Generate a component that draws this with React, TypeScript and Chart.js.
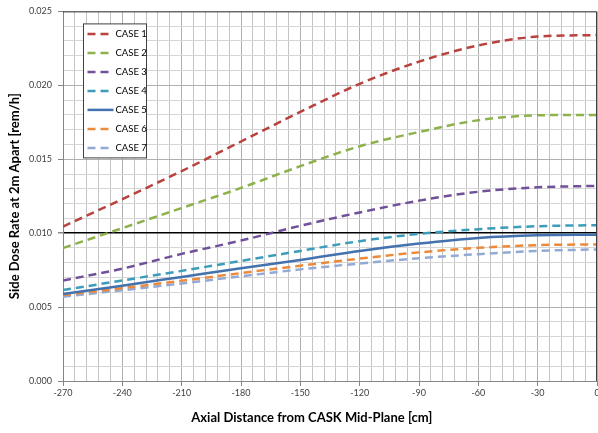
import React, { useEffect, useRef } from "react";
import { Chart, registerables } from "chart.js";

Chart.register(...registerables);

const xValues = [-270, -240, -210, -180, -150, -120, -90, -60, -30, 0];
const case1 = [0.01045, 0.0123, 0.0142, 0.0162, 0.0182, 0.0201, 0.0216, 0.0227, 0.0233, 0.0234];
const case2 = [0.009, 0.01034, 0.0117, 0.01306, 0.01453, 0.01588, 0.01684, 0.01764, 0.01797, 0.018];
const case3 = [0.0068, 0.0076, 0.0086, 0.0095, 0.0105, 0.0114, 0.0122, 0.0128, 0.0131, 0.0132];
const case4 = [0.00615, 0.0068, 0.00745, 0.00812, 0.0088, 0.00946, 0.00995, 0.01027, 0.01047, 0.01054];
const case5 = [0.00588, 0.00645, 0.00704, 0.00763, 0.00818, 0.0088, 0.0093, 0.00968, 0.00986, 0.0099];
const case6 = [0.00581, 0.00628, 0.00678, 0.0073, 0.0078, 0.00828, 0.0087, 0.00901, 0.00919, 0.00924];
const case7 = [0.0057, 0.00614, 0.0066, 0.00708, 0.00755, 0.00795, 0.0083, 0.00858, 0.0088, 0.0089];

const seriesNames = ["CASE 1", "CASE 2", "CASE 3", "CASE 4", "CASE 5", "CASE 6", "CASE 7"];
const seriesValues = [case1, case2, case3, case4, case5, case6, case7];
const seriesColors = ["#B9423F", "#8DB24C", "#71509A", "#3C9DBA", "#4472AE", "#EC8A3C", "#93AAD5"];
const seriesDashed = [true, true, true, true, false, true, true];

const xTitle = "Axial Distance from CASK Mid-Plane [cm]";
const yTitle = "Side Dose Rate at 2m Apart [rem/h]";

const FONT = "Lato, 'Open Sans', sans-serif";

const overlayPlugin = {
  id: "overlay",
  afterDraw(chart: any) {
    const { ctx, chartArea } = chart;
    const { left, top, right, bottom } = chartArea;
    ctx.save();
    ctx.strokeStyle = "#404040";
    ctx.lineWidth = 1;
    ctx.beginPath();
    ctx.moveTo(left, top + 0.5);
    ctx.lineTo(right - 0.5, top + 0.5);
    ctx.lineTo(right - 0.5, bottom);
    ctx.stroke();

    ctx.fillStyle = "#000";
    ctx.font = `bold 13px ${FONT}`;
    ctx.textAlign = "center";
    ctx.textBaseline = "middle";
    ctx.fillText(xTitle, left + (right - left) * 0.466, bottom + 37);

    const bx = left + 20.5;
    const by = top + 12.5;
    const bw = 63;
    const bh = 134;
    ctx.fillStyle = "#fff";
    ctx.fillRect(bx, by, bw, bh);
    ctx.strokeStyle = "#404040";
    ctx.lineWidth = 1;
    ctx.strokeRect(bx, by, bw, bh);
    chart.data.datasets.forEach((ds: any, i: number) => {
      const yy = by + 10 + i * 19;
      ctx.save();
      ctx.strokeStyle = ds.borderColor;
      ctx.lineWidth = 2.5;
      ctx.setLineDash(ds.borderDash || []);
      ctx.beginPath();
      ctx.moveTo(bx + 4, yy);
      ctx.lineTo(bx + 30, yy);
      ctx.stroke();
      ctx.restore();
      ctx.fillStyle = "#000";
      ctx.font = `9.5px ${FONT}`;
      ctx.textAlign = "left";
      ctx.textBaseline = "middle";
      ctx.fillText(ds.label, bx + 32, yy + 0.5);
    });
    ctx.restore();
  },
};

export default function App() {
  const ref = useRef<HTMLCanvasElement | null>(null);
  useEffect(() => {
    document.body.style.margin = "0";
    if (!ref.current) return;
    const datasets = seriesNames.map((name, i) => ({
      label: name,
      data: xValues.map((x, j) => ({ x, y: seriesValues[i][j] })),
      borderColor: seriesColors[i],
      backgroundColor: seriesColors[i],
      borderWidth: 2.5,
      borderDash: seriesDashed[i] ? [8, 5] : [],
      pointRadius: 0,
      cubicInterpolationMode: "monotone" as const,
      fill: false,
    }));
    const chart = new Chart(ref.current, {
      type: "line",
      data: { datasets },
      plugins: [overlayPlugin],
      options: {
        animation: false,
        responsive: false,
        layout: { padding: { top: 11, right: 1, left: 0, bottom: 0 } },
        plugins: { legend: { display: false }, tooltip: { enabled: false } },
        scales: {
          x: {
            type: "linear",
            min: -270,
            max: 0,
            afterFit: (s: any) => {
              s.height = 52;
              s.paddingLeft = 0;
              s.paddingRight = 0;
            },
            border: { color: "#868686", width: 1 },
            grid: {
              color: (c: any) => (c.tick && Math.round(c.tick.value) % 30 === 0 ? "#b0b0b0" : "#c4c4c4"),
              tickColor: (c: any) => (c.tick && Math.round(c.tick.value) % 30 === 0 ? "#868686" : "rgba(0,0,0,0)"),
              tickLength: 5,
              lineWidth: 1,
            },
            ticks: {
              stepSize: 6,
              autoSkip: false,
              maxRotation: 0,
              padding: 2,
              color: "#404040",
              font: { family: FONT, size: 9 },
              callback: (v: any) => (Math.round(v) % 30 === 0 ? String(Math.round(v)) : ""),
            },
          },
          y: {
            min: 0,
            max: 0.025,
            afterFit: (s: any) => {
              s.width = 63;
            },
            border: { color: "#868686", width: 1 },
            grid: {
              color: (c: any) => {
                const k = Math.round((c.tick ? c.tick.value : 0) * 1000);
                if (k === 10) return "#000000";
                return k % 5 === 0 ? "#b0b0b0" : "#d6d6d6";
              },
              lineWidth: (c: any) => (Math.round((c.tick ? c.tick.value : 0) * 1000) === 10 ? 1.5 : 1),
              tickColor: (c: any) =>
                Math.round((c.tick ? c.tick.value : 0) * 1000) % 5 === 0 ? "#868686" : "rgba(0,0,0,0)",
              tickLength: 5,
            },
            ticks: {
              stepSize: 0.001,
              autoSkip: false,
              padding: 6,
              color: "#404040",
              font: { family: FONT, size: 9 },
              callback: (v: any) => {
                const k = Math.round(Number(v) * 1000);
                return k % 5 === 0 ? (k / 1000).toFixed(3) : "";
              },
            },
            title: {
              display: true,
              text: yTitle,
              color: "#000",
              font: { family: FONT, size: 13, weight: "bold" },
              padding: { top: 7, bottom: 0 },
            },
          },
        },
      },
    });
    return () => chart.destroy();
  }, []);
  return (
    <div style={{ width: 598, height: 433 }}>
      <canvas ref={ref} width={598} height={433} style={{ display: "block" }} />
    </div>
  );
}
